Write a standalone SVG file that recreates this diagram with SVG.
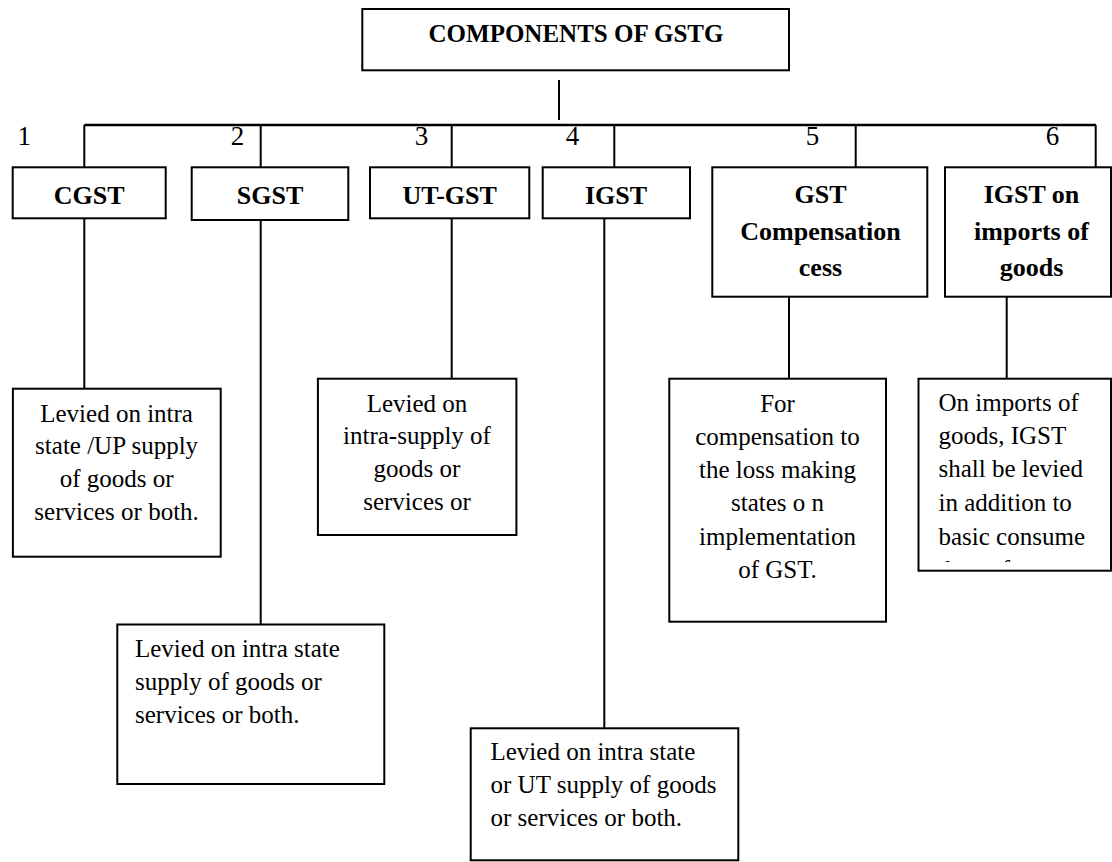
<svg xmlns="http://www.w3.org/2000/svg" width="1112" height="862" viewBox="0 0 1112 862" font-family="'Liberation Serif', 'DejaVu Serif', serif">
  <style>
    .box { fill: #fff; stroke: #000; stroke-width: 2; }
    .wire { fill: none; stroke: #000; stroke-width: 2; }
    .bus { fill: none; stroke: #000; stroke-width: 2.6; }
    text { font-family: 'Liberation Serif', 'DejaVu Serif', serif; fill: #000; }
    .title { font-weight: bold; font-size: 25px; text-anchor: middle; }
    .head { font-weight: bold; font-size: 26px; text-anchor: middle; }
    .num { font-size: 27px; text-anchor: middle; }
    .desc { font-size: 25px; }
    .mid { text-anchor: middle; }
  </style>
  <defs>
    <clipPath id="clip-imports-desc">
      <rect x="919" y="380" width="193" height="182"/>
    </clipPath>
  </defs>
  <rect width="1112" height="862" fill="#fff"/>

  <!-- connectors -->
  <g id="connectors">
    <line class="wire" x1="559" y1="80" x2="559" y2="120"/>
    <line class="bus" x1="84.3" y1="125" x2="1096" y2="125"/>
    <line class="wire" x1="84.3" y1="125" x2="84.3" y2="167.3"/>
    <line class="wire" x1="260.7" y1="125" x2="260.7" y2="167.3"/>
    <line class="wire" x1="451.7" y1="125" x2="451.7" y2="167.3"/>
    <line class="wire" x1="614.3" y1="125" x2="614.3" y2="167.3"/>
    <line class="wire" x1="855.7" y1="125" x2="855.7" y2="167.3"/>
    <line class="wire" x1="1095.7" y1="125" x2="1095.7" y2="167.3"/>
    <line class="wire" x1="84.3" y1="218.3" x2="84.3" y2="388.7"/>
    <line class="wire" x1="260.7" y1="220" x2="260.7" y2="624"/>
    <line class="wire" x1="451.7" y1="218.3" x2="451.7" y2="378.7"/>
    <line class="wire" x1="604.3" y1="218.3" x2="604.3" y2="728.3"/>
    <line class="wire" x1="789" y1="296.7" x2="789" y2="378.7"/>
    <line class="wire" x1="1006.7" y1="293" x2="1006.7" y2="378.7"/>
  </g>

  <!-- root -->
  <g id="root">
    <rect class="box" x="362.3" y="9" width="426.7" height="61.3"/>
    <text class="title" x="576" y="41.7">COMPONENTS OF GSTG</text>
  </g>

  <!-- branch numbers -->
  <g id="numbers">
    <text class="num" x="24.2" y="145">1</text>
    <text class="num" x="237.5" y="145">2</text>
    <text class="num" x="421.5" y="145">3</text>
    <text class="num" x="572.5" y="145">4</text>
    <text class="num" x="812.5" y="145">5</text>
    <text class="num" x="1052.5" y="145">6</text>
  </g>

  <!-- component headers -->
  <g id="cgst">
    <rect class="box" x="12.7" y="167.3" width="153" height="51"/>
    <text class="head" x="89.2" y="204">CGST</text>
  </g>
  <g id="sgst">
    <rect class="box" x="191.7" y="167.3" width="156.6" height="52.7"/>
    <text class="head" x="270" y="204">SGST</text>
  </g>
  <g id="utgst">
    <rect class="box" x="370" y="167.3" width="159.3" height="51"/>
    <text class="head" x="449.7" y="204">UT-GST</text>
  </g>
  <g id="igst">
    <rect class="box" x="542.7" y="167.3" width="147.3" height="51"/>
    <text class="head" x="616" y="204">IGST</text>
  </g>
  <g id="cess">
    <rect class="box" x="712.3" y="167.3" width="215" height="129.4"/>
    <text class="head" x="820.5" y="203.3">GST</text>
    <text class="head" x="820.5" y="239.5">Compensation</text>
    <text class="head" x="820.5" y="276">cess</text>
  </g>
  <g id="igst-imports">
    <rect class="box" x="945" y="167.3" width="166" height="129.4"/>
    <text class="head" x="1031.5" y="203.3">IGST on</text>
    <text class="head" x="1031.5" y="239.5">imports of</text>
    <text class="head" x="1031.5" y="276">goods</text>
  </g>

  <!-- descriptions -->
  <g id="cgst-desc">
    <rect class="box" x="12.9" y="388.7" width="207.8" height="168"/>
    <text class="desc mid" x="116.6" y="421.7">Levied on intra</text>
    <text class="desc mid" x="116.6" y="454.3">state /UP supply</text>
    <text class="desc mid" x="116.6" y="487">of goods or</text>
    <text class="desc mid" x="116.6" y="520">services or both.</text>
  </g>
  <g id="sgst-desc">
    <rect class="box" x="117.3" y="624.5" width="267" height="159.5"/>
    <text class="desc" x="135" y="656.7">Levied on intra state</text>
    <text class="desc" x="135" y="690">supply of goods or</text>
    <text class="desc" x="135" y="723.3">services or both.</text>
  </g>
  <g id="utgst-desc">
    <rect class="box" x="317.9" y="378.7" width="198.5" height="156.3"/>
    <text class="desc mid" x="417" y="411.7">Levied on</text>
    <text class="desc mid" x="417" y="444.3">intra-supply of</text>
    <text class="desc mid" x="417" y="477.3">goods or</text>
    <text class="desc mid" x="417" y="510">services or</text>
  </g>
  <g id="igst-desc">
    <rect class="box" x="470.7" y="728.3" width="267.6" height="132"/>
    <text class="desc" x="490.5" y="760">Levied on intra state</text>
    <text class="desc" x="490.5" y="793">or UT supply of goods</text>
    <text class="desc" x="490.5" y="826">or services or both.</text>
  </g>
  <g id="cess-desc">
    <rect class="box" x="669.3" y="378.7" width="216.7" height="243"/>
    <text class="desc mid" x="777.5" y="411.7">For</text>
    <text class="desc mid" x="777.5" y="445">compensation to</text>
    <text class="desc mid" x="777.5" y="478">the loss making</text>
    <text class="desc mid" x="777.5" y="511">states o n</text>
    <text class="desc mid" x="777.5" y="545">implementation</text>
    <text class="desc mid" x="777.5" y="578">of GST.</text>
  </g>
  <g id="igst-imports-desc">
    <rect class="box" x="918.5" y="378.7" width="192.5" height="192"/>
    <text class="desc" x="938.5" y="411">On imports of</text>
    <text class="desc" x="938.5" y="444">goods, IGST</text>
    <text class="desc" x="938.5" y="477">shall be levied</text>
    <text class="desc" x="938.5" y="510.5">in addition to</text>
    <text class="desc" x="938.5" y="544.5">basic consume</text>
    <text class="desc" x="938.5" y="578" clip-path="url(#clip-imports-desc)">duty of customs</text>
  </g>
</svg>
